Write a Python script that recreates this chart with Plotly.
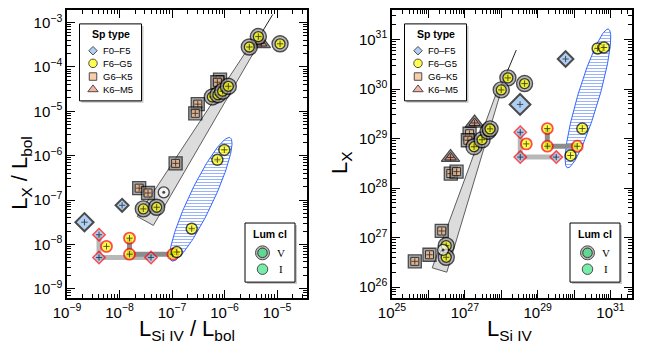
import numpy as np
import plotly.graph_objects as go

FONT = "Liberation Sans"

# ---------------- LEFT PANEL DATA (x: L_SiIV/L_bol, y: L_X/L_bol) ----------------
left_fg_v_x = [4.4e-6, 2.96e-6, 1.14e-5, 5.86e-7, 7.5e-7, 9.2e-7, 1.18e-6, 2.84e-8, 5.1e-8]
left_fg_v_y = [4.85e-4, 2.82e-4, 3.33e-4, 2.11e-5, 2.37e-5, 2.84e-5, 3.67e-5, 6.3e-8, 6.86e-8]
left_fg_i_x = [9.9e-7, 7.3e-7, 2.37e-7, 1.23e-7]
left_fg_i_y = [1.35e-6, 8.05e-7, 2.25e-8, 6.7e-9]
left_fg_r_x = [5.65e-9, 1.55e-8, 1.55e-8, 1.04e-7]
left_fg_r_y = [9.0e-9, 1.38e-8, 6.0e-9, 6.0e-9]
left_f_v_x = [2.15e-9, 1.12e-8]
left_f_v_y = [3.16e-8, 7.6e-8]
left_f_r_x = [4.07e-9, 4.07e-9, 3.98e-8]
left_f_r_y = [1.65e-8, 5.04e-9, 5.04e-9]
left_gk_v_x = [3.09e-7, 2.77e-7, 8.2e-7, 7.3e-7, 1.17e-7, 2.37e-8, 3.49e-8]
left_gk_v_y = [1.45e-5, 9.0e-6, 5.19e-5, 4.52e-5, 6.7e-7, 1.85e-7, 1.44e-7]
left_km_v_x = [5.0e-6]
left_km_v_y = [3.38e-4]
left_sun_x = [6.95e-8]
left_sun_y = [1.49e-7]
left_band_x = [2.18e-8, 4.41e-8, 3.98e-6, 3.06e-6]
left_band_y = [4.25e-8, 2.67e-8, 2.61e-4, 3.05e-4]
left_fit_x = [3.49e-6, 8.28e-6]
left_fit_y = [2.82e-4, 1.53e-3]
left_ell_center = [-6.45, -6.984]   # log10
left_ell_major = [0.555, 1.39]
left_ell_minor = [0.207, -0.114]

# ---------------- RIGHT PANEL DATA (x: L_SiIV, y: L_X) ----------------
right_fg_v_x = [1.52e28, 1.0e28, 4.37e28, 1.79e27, 2.97e27, 4.34e27, 4.92e27, 3.08e26, 3.08e26]
right_fg_v_y = [1.68e30, 9.6e29, 1.29e30, 6.84e28, 9.46e28, 1.40e29, 1.57e29, 6.87e26, 4.0e26]
right_fg_i_x = [4.43e30, 6.59e30, 1.68e30, 8.0e29]
right_fg_i_y = [6.59e30, 6.9e30, 1.59e29, 4.56e28]
right_fg_r_x = [4.87e28, 1.84e29, 1.84e29, 1.22e30]
right_fg_r_y = [7.8e28, 1.59e29, 7.0e28, 7.0e28]
right_f_v_x = [3.28e28, 5.84e29]
right_f_v_y = [4.89e29, 4.04e30]
right_f_r_x = [3.33e28, 3.33e28, 3.24e29]
right_f_r_y = [1.34e29, 4.22e28, 4.22e28]
right_gk_v_x = [1.35e27, 1.21e27, 4.12e26, 5.92e26, 2.32e26, 1.07e26, 4.23e25]
right_gk_v_y = [1.25e29, 9.25e28, 1.96e28, 2.15e28, 1.36e27, 4.5e26, 3.31e26]
right_km_v_x = [1.85e27, 4.05e26]
right_km_v_y = [2.06e29, 4.15e28]
right_sun_x = [2.52e26]
right_sun_y = [5.64e26]
right_band_x = [1.27e26, 3.2e26, 1.02e28, 7.43e27]
right_band_y = [2.45e26, 2.0e26, 9.77e29, 8.5e29]
right_fit_x = [8.7e27, 2.58e28]
right_fit_y = [9.1e29, 6.12e30]
right_ell_center = [30.38, 29.81]   # log10
right_ell_major = [0.561, 1.40]
right_ell_minor = [0.28, -0.06]

# ---------------- TICKS / LABELS ----------------
left_xticks = [1e-9, 1e-8, 1e-7, 1e-6, 1e-5]
left_xlabels = ["10<sup>−9</sup>", "10<sup>−8</sup>", "10<sup>−7</sup>", "10<sup>−6</sup>", "10<sup>−5</sup>"]
left_yticks = [1e-9, 1e-8, 1e-7, 1e-6, 1e-5, 1e-4, 1e-3]
left_ylabels = ["10<sup>−9</sup>", "10<sup>−8</sup>", "10<sup>−7</sup>", "10<sup>−6</sup>",
                "10<sup>−5</sup>", "10<sup>−4</sup>", "10<sup>−3</sup>"]
right_xticks = [1e25, 1e26, 1e27, 1e28, 1e29, 1e30, 1e31]
right_xlabels = ["10<sup>25</sup>", "", "10<sup>27</sup>", "", "10<sup>29</sup>", "", "10<sup>31</sup>"]
right_yticks = [1e26, 1e27, 1e28, 1e29, 1e30, 1e31]
right_ylabels = ["10<sup>26</sup>", "10<sup>27</sup>", "10<sup>28</sup>", "10<sup>29</sup>",
                 "10<sup>30</sup>", "10<sup>31</sup>"]
sp_types = ["F0–F5", "F6–G5", "G6–K5", "K6–M5"]
lum_classes = ["V", "I"]

# ---------------- GEOMETRY ----------------
OFF = 8                      # page body margin of the html page
W, H = 649 - OFF, 351 - OFF
SX0, SX1, SY0, SY1 = 67, 632, 8, 298   # plot area in screen pixels
ML, MT = SX0 - OFF, SY0 - OFF
MR, MB = W - (SX1 - OFF), H - (SY1 - OFF)
PW, PH = SX1 - SX0, SY1 - SY0


def pxx(x):
    return (x - SX0) / PW


def pxy(y):
    return (SY1 - y) / PH


YEL = "#ffff00"
BLU = "#8fbbee"
ORA = "#f7b98a"
SAL = "#f3927c"
GRN = "#3ee585"
HATCH = "#3366ff"
CROSS = ("cross-thin", 4.5, "black", "black", 0.9)

yellow_V = [("circle", 16, "#9c9c9c", "black", 1.4), ("circle", 10, YEL, "black", 1.3), CROSS]
yellow_I = [("circle", 11, YEL, "black", 1.5), CROSS]
yellow_R = [("circle", 11, YEL, "#ff0000", 1.8), CROSS]
diam_V = [("diamond", 10, BLU, "black", 2.0), CROSS]
diam_R = [("diamond", 9.5, BLU, "#ff0000", 1.5), CROSS]
square_V = [("square", 13, "#858585", "black", 1.3), ("square", 8, ORA, "black", 1.0), CROSS]
tri_V = [("triangle-up", 16, "#666666", "black", 1.3), ("triangle-up", 10, SAL, "black", 1.0), CROSS]
sun_s = [("circle", 11, "white", "black", 1.3), ("circle", 3, "black", "black", 0)]

fig = go.Figure()


def add_layered(xs, ys, layers, ax, scale=None):
    X, Y, S, C, SY, LC, LW = [], [], [], [], [], [], []
    for i, (x, y) in enumerate(zip(xs, ys)):
        k = 1.0 if scale is None else scale[i]
        for (sym, size, col, lcol, lw) in layers:
            X.append(x); Y.append(y); SY.append(sym)
            S.append(size if sym == "cross-thin" else size * k)
            C.append(col); LC.append(lcol); LW.append(lw)
    fig.add_trace(go.Scatter(
        x=X, y=Y, mode="markers",
        marker=dict(symbol=SY, size=S, color=C, line=dict(color=LC, width=LW)),
        xaxis=ax[0], yaxis=ax[1], hoverinfo="skip", showlegend=False, cliponaxis=False))


def ellipse(c, a, b, n=140):
    t = np.linspace(0, 2 * np.pi, n)
    lx = c[0] + a[0] * np.cos(t) + b[0] * np.sin(t)
    ly = c[1] + a[1] * np.cos(t) + b[1] * np.sin(t)
    return 10 ** lx, 10 ** ly


def panel(ax, band_x, band_y, fit_x, fit_y, ec, ea, eb,
          gk_x, gk_y, km_x, km_y, fv_x, fv_y, fv_scale, fgv_x, fgv_y,
          fr_x, fr_y, fgr_x, fgr_y, fgi_x, fgi_y, sun_x, sun_y):
    fig.add_trace(go.Scatter(x=band_x + band_x[:1], y=band_y + band_y[:1], mode="lines",
                             fill="toself", fillcolor="#dcdcdc",
                             line=dict(color="#3a3a3a", width=0.8),
                             xaxis=ax[0], yaxis=ax[1], hoverinfo="skip", showlegend=False))
    fig.add_trace(go.Scatter(x=fit_x, y=fit_y, mode="lines", line=dict(color="#222", width=1),
                             xaxis=ax[0], yaxis=ax[1], hoverinfo="skip", showlegend=False))
    ex, ey = ellipse(ec, ea, eb)
    fig.add_trace(go.Scatter(x=ex, y=ey, mode="lines", fill="toself",
                             fillpattern=dict(shape="-", fgcolor=HATCH, bgcolor="white",
                                              size=3, solidity=0.34),
                             line=dict(color=HATCH, width=1),
                             xaxis=ax[0], yaxis=ax[1], hoverinfo="skip", showlegend=False))
    add_layered(gk_x, gk_y, square_V, ax)
    add_layered(km_x, km_y, tri_V, ax)
    add_layered(fv_x, fv_y, diam_V, ax, scale=fv_scale)
    add_layered(fgv_x, fgv_y, yellow_V, ax)
    # connecting tracks
    fig.add_trace(go.Scatter(x=fr_x, y=fr_y, mode="lines", line=dict(color="#b8b8b8", width=5),
                             xaxis=ax[0], yaxis=ax[1], hoverinfo="skip", showlegend=False))
    fig.add_trace(go.Scatter(x=fgr_x[1:], y=fgr_y[1:], mode="lines", line=dict(color="#8c8c8c", width=5),
                             xaxis=ax[0], yaxis=ax[1], hoverinfo="skip", showlegend=False))
    add_layered(fr_x, fr_y, diam_R, ax)
    add_layered(fgr_x, fgr_y, yellow_R, ax)
    add_layered(fgi_x, fgi_y, yellow_I, ax)
    add_layered(sun_x, sun_y, sun_s, ax)


panel(("x", "y"), left_band_x, left_band_y, left_fit_x, left_fit_y,
      left_ell_center, left_ell_major, left_ell_minor,
      left_gk_v_x, left_gk_v_y, left_km_v_x, left_km_v_y,
      left_f_v_x, left_f_v_y, [1.4, 1.0], left_fg_v_x, left_fg_v_y,
      left_f_r_x, left_f_r_y, left_fg_r_x, left_fg_r_y,
      left_fg_i_x, left_fg_i_y, left_sun_x, left_sun_y)

panel(("x2", "y2"), right_band_x, right_band_y, right_fit_x, right_fit_y,
      right_ell_center, right_ell_major, right_ell_minor,
      right_gk_v_x, right_gk_v_y, right_km_v_x, right_km_v_y,
      right_f_v_x, right_f_v_y, [1.6, 1.2], right_fg_v_x, right_fg_v_y,
      right_f_r_x, right_f_r_y, right_fg_r_x, right_fg_r_y,
      right_fg_i_x, right_fg_i_y, right_sun_x, right_sun_y)

# ---------------- LEGENDS (drawn inside panels) ----------------
shapes = []
annotations = []
leg_x, leg_y, leg_sym, leg_size, leg_col, leg_lc = [], [], [], [], [], []
sp_syms = [("diamond", 6.5, BLU), ("circle", 8.5, YEL), ("square", 7.5, ORA), ("triangle-up", 9, SAL)]


def note(x, y, text, font, **kw):
    d = dict(x=pxx(x), y=pxy(y), xref="paper", yref="paper", text=text, showarrow=False,
             xanchor="center", yanchor="middle", font=font)
    d.update(kw)
    annotations.append(d)


for x0 in (79.5, 404.5):
    shapes.append(dict(type="rect", xref="paper", yref="paper", layer="below",
                       x0=pxx(x0 + 2), x1=pxx(x0 + 64), y0=pxy(101.5), y1=pxy(24),
                       fillcolor="#c8c8c8", line=dict(width=0)))
    shapes.append(dict(type="rect", xref="paper", yref="paper", layer="below",
                       x0=pxx(x0), x1=pxx(x0 + 62), y0=pxy(99.5), y1=pxy(22),
                       fillcolor="white", line=dict(color="black", width=1)))
    note(x0 + 31, 32.5, "<b>Sp type</b>", dict(family=FONT, size=10.5, color="black"))
    for i, name in enumerate(sp_types):
        yy = [49, 61.7, 75, 88][i]
        sym, sz, col = sp_syms[i]
        leg_x.append(pxx(x0 + 13.5)); leg_y.append(pxy(yy)); leg_sym.append(sym)
        leg_size.append(sz); leg_col.append(col); leg_lc.append("black")
        note(x0 + 21, yy, name, dict(family=FONT, size=9.5, color="black"), xanchor="left")

for x0 in (245, 570):
    shapes.append(dict(type="rect", xref="paper", yref="paper", layer="below",
                       x0=pxx(x0 + 2), x1=pxx(x0 + 52), y0=pxy(284), y1=pxy(224.5),
                       fillcolor="#c8c8c8", line=dict(width=0)))
    shapes.append(dict(type="rect", xref="paper", yref="paper", layer="below",
                       x0=pxx(x0), x1=pxx(x0 + 50), y0=pxy(282), y1=pxy(222.5),
                       fillcolor="white", line=dict(color="black", width=1)))
    note(x0 + 25, 234, "<b>Lum cl</b>", dict(family=FONT, size=10.5, color="black"))
    for (sz, col) in [(14, "#9c9c9c"), (9.5, GRN)]:
        leg_x.append(pxx(x0 + 17.5)); leg_y.append(pxy(252.5)); leg_sym.append("circle")
        leg_size.append(sz); leg_col.append(col); leg_lc.append("black")
    leg_x.append(pxx(x0 + 17.5)); leg_y.append(pxy(269)); leg_sym.append("circle")
    leg_size.append(10.5); leg_col.append(GRN); leg_lc.append("black")
    for j, name in enumerate(lum_classes):
        note(x0 + 35.5, [252.5, 269][j], name, dict(family="Liberation Serif", size=11, color="black"))

fig.add_trace(go.Scatter(x=leg_x, y=leg_y, mode="markers",
                         marker=dict(symbol=leg_sym, size=leg_size, color=leg_col,
                                     line=dict(color=leg_lc, width=1)),
                         xaxis="x3", yaxis="y3", hoverinfo="skip", showlegend=False, cliponaxis=False))

# ---------------- AXIS TITLES ----------------
TF = dict(family=FONT, size=22, color="black")
note(21, 172, "L<sub>X</sub> / L<sub>bol</sub>", TF, textangle=-90)
note(187, 330, "L<sub>Si IV</sub> / L<sub>bol</sub>", TF)
note(341, 162, "L<sub>X</sub>", TF, textangle=-90)
note(509, 330, "L<sub>Si IV</sub>", TF)


def axis(rng, tv, tt, domain, anchor):
    return dict(type="log", range=rng, domain=domain, anchor=anchor,
                tickmode="array", tickvals=tv, ticktext=tt,
                showgrid=False, zeroline=False, showline=True, linecolor="black", linewidth=1.5,
                mirror="ticks", ticks="inside", ticklen=8, tickwidth=1.2, tickcolor="black",
                tickfont=dict(family=FONT, size=15, color="black"),
                minor=dict(ticks="inside", ticklen=4, tickwidth=1, tickcolor="black",
                           dtick="D1", showgrid=False),
                fixedrange=True)


fig.update_layout(
    width=W, height=H,
    margin=dict(l=ML, r=MR, t=MT, b=MB, pad=0),
    paper_bgcolor="white", plot_bgcolor="rgba(0,0,0,0)",
    showlegend=False,
    xaxis=axis([-9, -4.43], left_xticks, left_xlabels, [0, 240 / PW], "y"),
    yaxis=axis([-9.21, -2.715], left_yticks, left_ylabels, [0, 1], "x"),
    xaxis2=axis([25.0, 31.59], right_xticks, right_xlabels, [325 / PW, 1], "y2"),
    yaxis2=axis([25.78, 31.596], right_yticks, right_ylabels, [0, 1], "x2"),
    xaxis3=dict(domain=[0, 1], range=[0, 1], anchor="y3", visible=False, fixedrange=True),
    yaxis3=dict(domain=[0, 1], range=[0, 1], anchor="x3", visible=False, fixedrange=True),
    shapes=shapes, annotations=annotations,
)

fig.write_html("out.html")
